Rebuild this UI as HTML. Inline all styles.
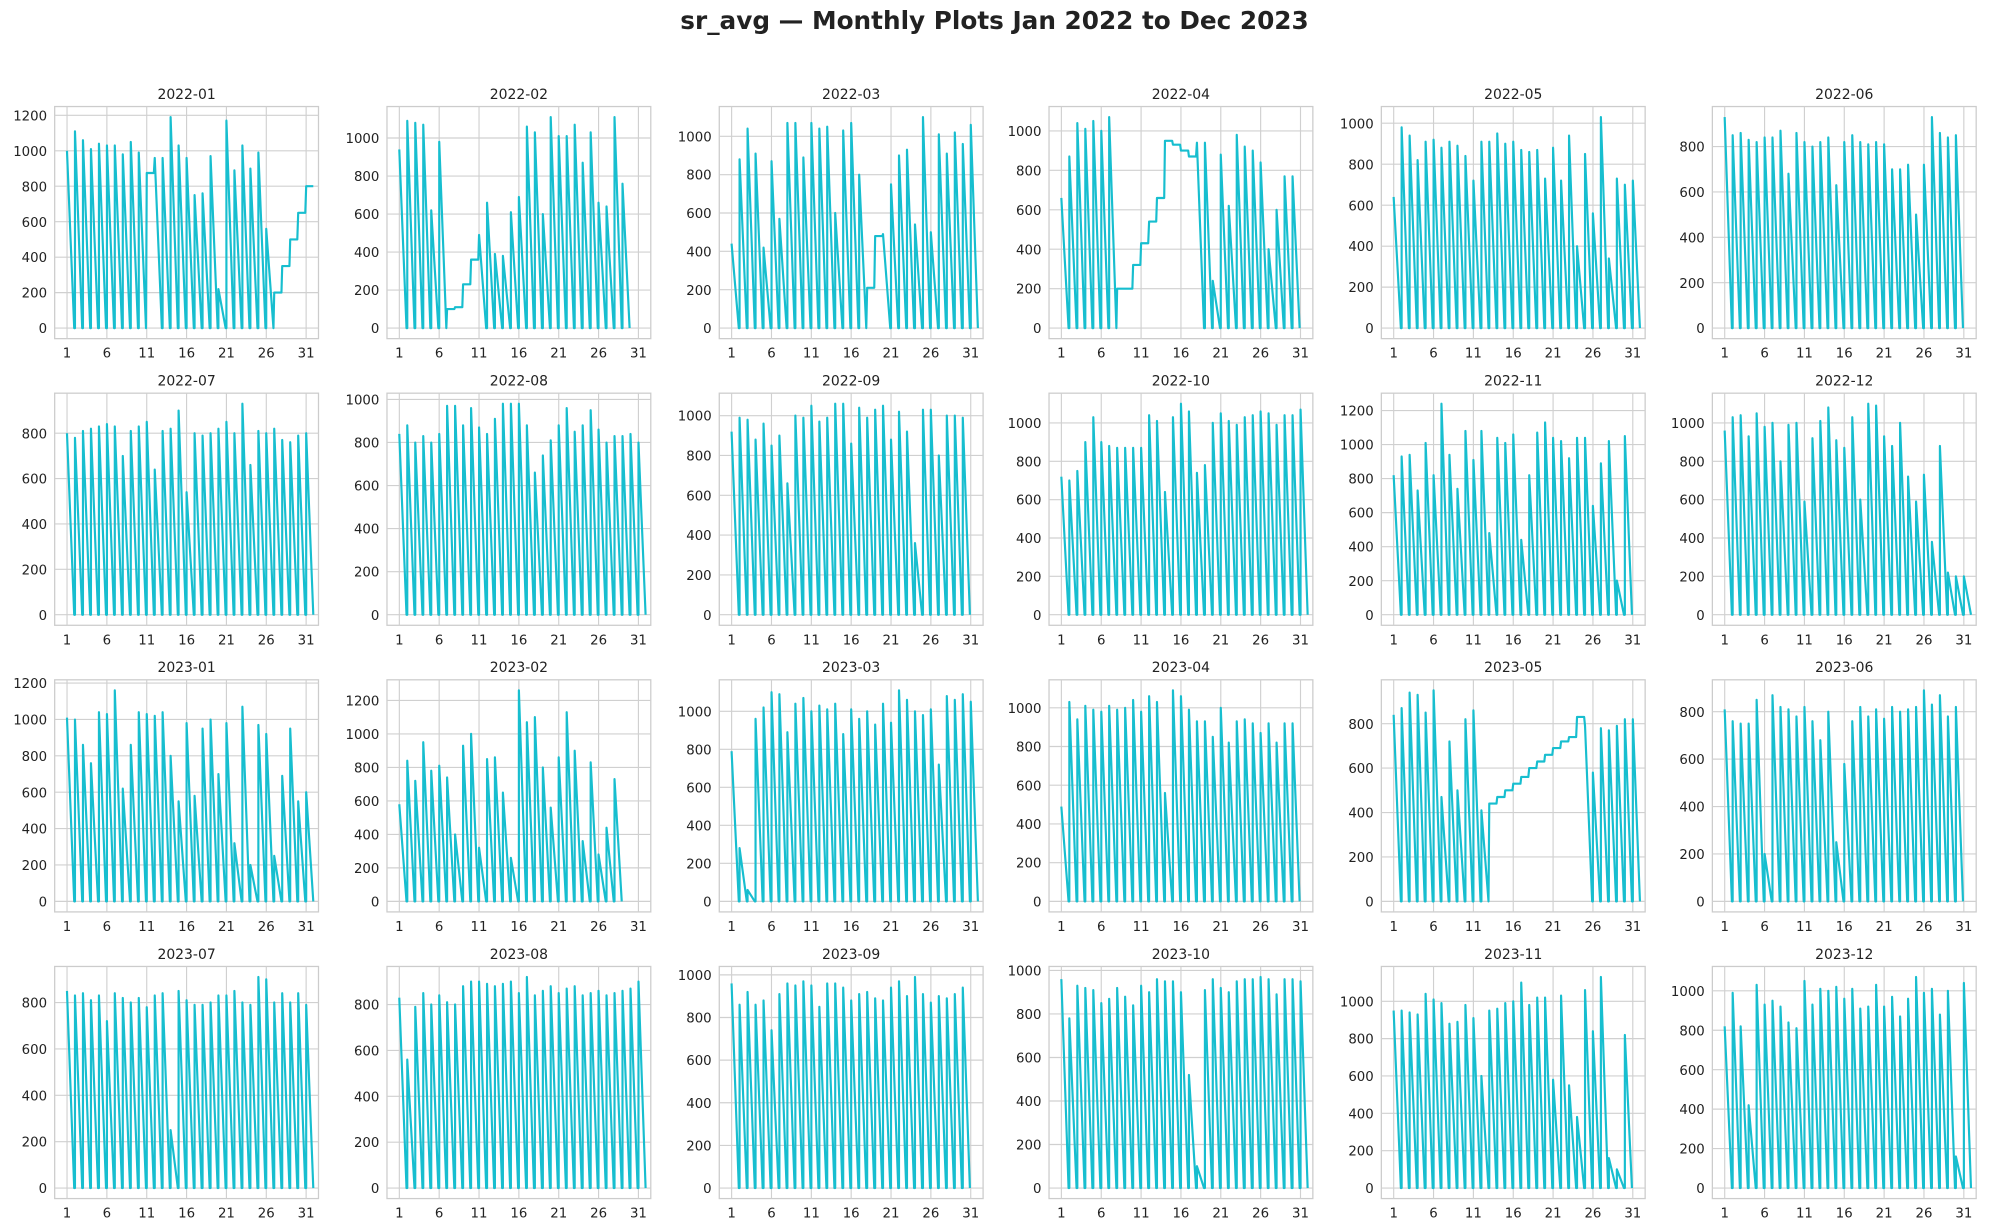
<!DOCTYPE html>
<html><head><meta charset="utf-8"><style>
html,body{margin:0;padding:0;background:#fff;}
svg{display:block;font-family:"DejaVu Sans","Liberation Sans",sans-serif;}
</style></head><body>
<svg id="fig" width="1989" height="1229" viewBox="0 0 1568 969" xmlns="http://www.w3.org/2000/svg">
<rect width="1568" height="969" fill="#fff"/>
<text x="784" y="23" text-anchor="middle" font-size="19.5" font-weight="bold" fill="#222">sr_avg — Monthly Plots Jan 2022 to Dec 2023</text>
</svg>
<script>
const monthLabels = ["2022-01","2022-02","2022-03","2022-04","2022-05","2022-06","2022-07","2022-08","2022-09","2022-10","2022-11","2022-12","2023-01","2023-02","2023-03","2023-04","2023-05","2023-06","2023-07","2023-08","2023-09","2023-10","2023-11","2023-12"];
const peaks_2022_01 = [1000,1110,1060,1010,1040,1030,1030,980,1050,990,875,960,960,1190,1030,960,750,760,970,220,1170,890,1030,900,990,560,200,350,500,650,800];
const peaks_2022_02 = [940,1090,1080,1070,620,980,100,110,230,360,490,660,390,380,610,690,1060,1030,600,1110,1010,1010,1070,870,1030,660,640,1110,760];
const peaks_2022_03 = [440,880,1040,910,420,870,570,1070,1070,890,1070,1040,1050,600,1030,1070,800,210,480,490,750,900,930,540,1100,500,1010,910,1020,960,1060];
const peaks_2022_04 = [660,870,1040,1010,1050,1000,1070,200,200,320,430,540,660,950,930,900,870,940,940,240,880,620,980,920,900,840,400,600,770,770];
const peaks_2022_05 = [640,980,940,820,910,920,880,910,890,840,720,910,910,950,900,910,870,860,870,730,880,720,940,400,850,560,1030,340,730,700,720];
const peaks_2022_06 = [930,850,860,830,820,840,840,870,680,860,820,800,820,840,630,820,850,820,810,820,810,700,700,720,500,720,930,860,840,850];
const peaks_2022_07 = [800,780,810,820,830,840,830,700,810,830,850,640,810,820,900,540,800,790,800,820,850,800,930,660,810,800,820,770,760,790,800];
const peaks_2022_08 = [840,880,800,830,800,840,970,970,880,960,870,840,910,980,980,980,880,660,740,810,880,960,850,880,950,860,800,830,830,840,800];
const peaks_2022_09 = [920,990,980,880,960,850,900,660,1000,990,1050,970,990,1060,1060,860,1040,990,1030,1050,880,1020,920,360,1030,1030,800,1000,1000,990];
const peaks_2022_10 = [720,700,750,900,1030,900,880,870,870,870,870,1040,1010,640,1030,1100,1060,740,780,1000,1050,1010,990,1030,1040,1060,1050,990,1040,1040,1070];
const peaks_2022_11 = [820,930,940,730,1010,820,1240,940,740,1080,910,1080,480,1040,1010,1060,440,820,1070,1130,1040,1020,920,1040,1040,640,890,1020,200,1050];
const peaks_2022_12 = [960,1030,1040,930,1050,980,1000,800,990,1000,590,920,1010,1080,910,870,1030,600,1100,1090,930,880,1000,720,590,730,380,880,220,200,200];
const peaks_2023_01 = [1010,1000,860,760,1040,1030,1160,620,860,1040,1030,1020,1040,800,550,980,580,950,1000,700,980,320,1070,200,970,920,250,690,950,550,600];
const peaks_2023_02 = [580,840,720,950,780,810,740,400,930,1000,320,850,860,650,260,1260,1070,1100,800,560,860,1130,900,360,830,280,440,730];
const peaks_2023_03 = [790,280,60,960,1020,1100,1090,890,1040,1070,1000,1030,1010,1040,880,1010,960,1000,930,1040,940,1110,1060,1000,980,1010,720,1080,1060,1090,1050];
const peaks_2023_04 = [490,1030,940,1010,990,980,1010,990,1000,1040,980,1060,1030,560,1090,1060,990,930,930,850,1000,820,930,940,920,870,920,820,920,920];
const peaks_2023_05 = [840,870,940,930,850,950,470,720,500,820,860,410,440,470,500,530,560,600,630,660,690,720,740,830,790,580,780,770,790,820,820];
const peaks_2023_06 = [810,760,750,750,850,200,870,820,810,780,820,760,680,800,250,580,760,820,780,810,770,820,800,810,820,890,830,870,780,820];
const peaks_2023_07 = [850,830,840,810,830,720,840,820,800,820,780,830,840,250,850,810,790,790,800,830,830,850,800,790,910,900,800,840,800,840,790];
const peaks_2023_08 = [830,560,790,850,800,840,810,800,880,900,900,890,880,890,900,850,920,840,860,880,850,870,880,840,850,860,840,850,860,870,900];
const peaks_2023_09 = [960,860,920,860,880,740,910,960,950,970,950,850,960,960,940,880,910,920,890,880,940,970,900,990,910,870,900,890,910,940];
const peaks_2023_10 = [960,780,930,920,910,850,870,920,880,840,930,900,960,950,950,900,520,100,910,960,920,900,950,960,960,970,960,890,960,960,950];
const peaks_2023_11 = [950,950,940,930,1040,1010,990,880,890,980,910,600,950,960,990,1000,1100,980,1020,1020,580,1030,550,380,1060,840,1130,160,100,820];
const peaks_2023_12 = [820,990,820,420,1030,930,950,920,840,810,1050,930,1010,1000,1020,960,1010,910,920,1030,920,970,870,960,1070,990,1010,880,1000,160,1040];
const flatDays = {"2022-01":[11,27,28,29,30,31],"2022-02":[7,8,9,10],"2022-03":[18,19],"2022-04":[8,9,10,11,12,13,14,15,16,17],"2023-05":[13,14,15,16,17,18,19,20,21,22,23,24]};
const allPeaks = [peaks_2022_01,peaks_2022_02,peaks_2022_03,peaks_2022_04,peaks_2022_05,peaks_2022_06,peaks_2022_07,peaks_2022_08,peaks_2022_09,peaks_2022_10,peaks_2022_11,peaks_2022_12,peaks_2023_01,peaks_2023_02,peaks_2023_03,peaks_2023_04,peaks_2023_05,peaks_2023_06,peaks_2023_07,peaks_2023_08,peaks_2023_09,peaks_2023_10,peaks_2023_11,peaks_2023_12];
const xTicks = [1,6,11,16,21,26,31];

const NS="http://www.w3.org/2000/svg";
const fig=document.getElementById('fig');
function mk(tag,attrs,parent){const e=document.createElementNS(NS,tag);for(const k in attrs)e.setAttribute(k,attrs[k]);(parent||fig).appendChild(e);return e;}
const colX=[43,305,567,827,1089,1350], rowY=[84,310,536,762], W=208, H=183;
allPeaks.forEach((pk,i)=>{
  const label=monthLabels[i], L=colX[i%6], T=rowY[Math.floor(i/6)];
  const flats=flatDays[label]||[];
  const g=mk('g',{});
  
  
  const maxV=Math.max(...pk);
  const y0=-0.05*maxV, y1=1.05*maxV;
  const xs=v=>L+(v+0.55)/33.1*W;
  const ys=v=>T+H-(v-y0)/(y1-y0)*H;
  mk('rect',{x:L,y:T,width:W,height:H,fill:'#fff',stroke:'#ccc','stroke-width':1},g);
  for(let t=0;t<=y1;t+=200){
    const gl=mk('line',{x1:L,x2:L+W,y1:ys(t),y2:ys(t),stroke:'#d0d0d0','stroke-width':0.9},g);
    
    
    const tl=mk('text',{x:L-6,y:ys(t)+4,'text-anchor':'end','font-size':10.5,fill:'#222'},g);
    
    
    tl.textContent=t;
  }
  xTicks.forEach(t=>{
    const gl=mk('line',{x1:xs(t),x2:xs(t),y1:T,y2:T+H,stroke:'#d0d0d0','stroke-width':0.9},g);
    
    
    const tl=mk('text',{x:xs(t),y:T+H+15,'text-anchor':'middle','font-size':10.5,fill:'#222'},g);
    
    
    tl.textContent=t;
  });
  const tt=mk('text',{x:L+W/2,y:T-6,'text-anchor':'middle','font-size':11,fill:'#222'},g);
  
  
  tt.textContent=label;
  const pts=[]; let prevFlat=true;
  pk.forEach((v,k)=>{
    const d=k+1;
    if(flats.includes(d)){pts.push([d,v],[d+0.9,v]);prevFlat=true;}
    else{ if(!prevFlat)pts.push([d,0]); pts.push([d,v],[d+0.9,0]); prevFlat=false;}
  });
  const p=mk('polyline',{points:pts.map(q=>xs(q[0]).toFixed(1)+','+ys(q[1]).toFixed(1)).join(' '),fill:'none',stroke:'#17becf','stroke-width':1.7,'stroke-linejoin':'round'},g);
  
  
});
</script>
</body></html>
